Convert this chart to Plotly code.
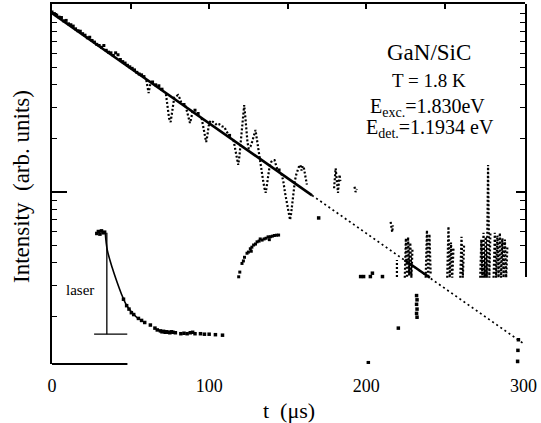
import plotly.graph_objects as go

FONT = "Liberation Serif"

# ---------------- data (t in microseconds, intensity in arb. units) ----------------
# measured decay points lying close to the exponential fit
t_main = [0, 1.5, 3, 4.5, 6, 7.5, 9, 10.5, 12, 13.5, 15, 16.5, 18, 19.5, 21, 22.5, 24, 25.5,
          27, 28.5, 30, 31.5, 33, 34.5, 36, 37.5, 39, 40.5, 42, 43.5, 45, 46.5, 48, 49.5, 51,
          52.5, 54, 55.5, 57, 58.5, 64, 66, 68, 70, 84, 91, 93, 113, 144.5]
i_main = [102.5, 100.5, 98.5, 96, 95.5, 91.5, 92, 88, 87, 85.5, 82.5, 80.5, 80, 77.5, 76, 73.5,
          74, 71, 69.5, 67.5, 66.5, 65, 66.5, 62.5, 61, 60.5, 58.5, 60.5, 59, 55.5, 54, 53, 51.5,
          50.5, 49.5, 48.5, 47, 46, 45.5, 44.5, 41.5, 40, 39.5, 37.8, 31, 28.8, 27.6, 20.8, 13.3]

# oscillating (noisy) parts of the signal, segments separated by None
t_noise = [60, 61, 61.5, 62.2, 63, None,
           72.5, 73.5, 74.5, 75.5, 76.3, 77, 77.8, 79, 80.2, 81.2, 82.2, None,
           85, 86.2, 87.2, 87.8, 88.6, 89.6, None,
           95.2, 96.3, 97.3, 98.1, 98.9, 99.7, 100.8, 102, 103.5, 105, 106.5, 108, 109.7, 111, 112.5, None,
           115.5, 116.5, 117.5, 118.5, 119.3, 120, 120.8, 121.5, 122.3, 123, 123.7, 124.4, 125.2,
           126.3, 127.4, 128.5, 129.5, 130.3, 131.2, 132.2, 133.2, 134.2, 135.2, 136, 136.8, 137.6,
           138.5, 139.6, 140.6, 141.6, 142.6, 143.6, None,
           146, 147.2, 148.2, 149.2, 150.2, 151, 151.5, 152.2, 153, 153.8, 154.6, 155.5, 156.5,
           157.3, 158, 158.8, 159.6, 160.4, 161.2, 162.2, None,
           179.5, 180, 180.5, 181, 181.5, 182, 182.5, 183, 183.5, None,
           192.5, 193.2, 194, None,
           215.5, 216, 216.5, 217, None,
           219.5, 219.5, None,
           224.5, 225.2, 225.9, 226.6, 227.3, 228, 228.7, 229.4, None,
           237.8, 238.6, 239.4, 240.2, 241, None,
           251.5, 252.3, 253.1, 253.9, 254.7, 255.5, None,
           259.8, 260.6, 261.4, 262.2, None,
           272.5, 273.2, 273.9, 274.6, 275.3, 276, 276.7, 277.5, 278.3, 279, None,
           281, 281.8, 282.6, 283.4, 284.2, 285, 285.8, 286.6, 287.4, 288.2, 289, 289.8]
i_noise = [42.5, 38, 36, 39, 42, None,
           35.5, 30, 26, 24.7, 27.5, 31.5, 34, 34.5, 35, 33.7, 32, None,
           30.5, 27.5, 25.2, 24.4, 26, 28.8, None,
           26, 23, 20.5, 19.1, 20.8, 23.5, 25.2, 24.8, 24.5, 23.7, 24, 23.4, 23.2, 21.9, 21, None,
           19.6, 17.6, 15.6, 14.2, 16, 18.5, 22, 26.5, 30.8, 26.5, 22, 19, 17.5,
           18, 19.2, 21, 22.3, 20, 17.5, 15.5, 13.5, 11.8, 10.5, 9.9, 11, 12.8,
           14, 14.8, 15.1, 15.1, 14.3, 13.2, None,
           12.7, 11.5, 10, 8.8, 7.8, 7.2, 6.97, 7.6, 8.8, 10.2, 11.6, 12.6, 13.5,
           14, 14.2, 13.2, 14, 13.5, 12.3, 11, None,
           10.5, 12, 13.6, 12.2, 11, 9.9, 11.2, 12.5, 11.5, None,
           10.7, 10, 10.4, None,
           6.8, 6.2, 5.96, 6.5, None,
           3.33, 4.15, None,
           3.3, 5.5, 3.3, 5.58, 3.4, 5.2, 3.3, 4.8, None,
           3.3, 6.1, 3.3, 5.8, 3.4, None,
           3.3, 6.4, 3.3, 5.2, 3.3, 4.84, None,
           3.3, 5.6, 3.3, 5.0, None,
           3.3, 5.4, 3.3, 5.9, 3.3, 5.6, 3.3, 14.2, 3.3, 6.0, None,
           3.3, 5.9, 3.3, 5.7, 3.3, 5.9, 3.3, 5.5, 3.3, 5.4, 3.3, 5.0]

# isolated points
t_stray = [169.7, 196.4, 198.3, 202.6, 203.9, 210.3, 220.4, 201.3,
           232, 232.3, 232, 232.3, 232, 232.3, 296.8, 296.5, 296.3, 296.3]
i_stray = [7.15, 3.35, 3.35, 3.35, 3.5, 3.35, 1.72, 1.1,
           2.62, 2.48, 2.34, 2.2, 2.08, 1.98, 1.48, 1.29, 1.12, 1.06]

# exponential fit (solid where data follow it, dotted beyond)
t_fit_solid = [0, 165.5, None, 224.5, 240.5]
i_fit_solid = [100.9, 9.58, None, 4.14, 3.30]
t_fit_dotted = [165.5, 300]
i_fit_dotted = [9.58, 1.41]

# laser pulse (inset-like trace)
t_laser_peak = [28.5, 29.5, 30.5, 31.5, 32.5, 33.5]
i_laser_peak = [5.85, 6.0, 5.8, 6.05, 5.9, 5.95]
t_laser_decay = [33.9, 35.2, 38.4, 41.6, 44.0, 46.7, 50.0, 54.3]
i_laser_decay = [5.89, 4.72, 3.74, 3.08, 2.70, 2.38, 2.15, 1.96]
t_laser_tail = [45.5, 47.5, 49, 50.5, 52, 55, 57, 59, 62.6, 65.5, 67, 69, 70, 71, 72, 73, 74, 75,
                76, 77, 78.5, 82, 84, 86, 88, 89.5, 91, 94.5, 97, 100, 104, 108.5]
i_laser_tail = [2.5, 2.3, 2.2, 2.1, 2.05, 1.95, 1.9, 1.85, 1.79, 1.72, 1.68, 1.66, 1.64, 1.65, 1.63,
                1.64, 1.63, 1.62, 1.64, 1.63, 1.62, 1.6, 1.61, 1.6, 1.62, 1.63, 1.6, 1.6, 1.59,
                1.59, 1.58, 1.57]
t_laser_bar = [34.9, 34.9]
i_laser_bar = [5.9, 1.59]
t_laser_base = [26.8, 47.9]
i_laser_base = [1.59, 1.59]

# rising signal
t_rise = [118.8, 119.5, 120.9, 121.8, 122.5, 124.1, 125, 126.2, 127.2, 128.3, 129.5, 130.5,
          131.8, 133.7, 135, 136.2, 137.5, 139, 140.2, 141.5, 142.8, 144.2, 126.8, 132.5, 138.3]
i_rise = [3.34, 3.55, 3.97, 4.1, 4.3, 4.53, 4.6, 4.8, 4.9, 5.04, 5.1, 5.25,
          5.3, 5.37, 5.45, 5.5, 5.6, 5.61, 5.65, 5.7, 5.72, 5.73, 4.65, 5.45, 5.4]

x_ticks = [0, 100, 200, 300]
top_ticks = [50, 100, 150, 200, 250]
y_major = [10]
y_minor = [2, 3, 4, 5, 6, 7, 8, 9, 20, 30, 40, 50, 60, 70, 80, 90, 100]
y2_minor = [4, 5, 6, 7, 8, 9, 20, 30, 40, 50, 60, 70, 80, 90, 100]

# ---------------- figure ----------------
W, H = 541, 423
ML, MR, MT, MB = 52, 16, 4, 59
X_RANGE = [0, 301]
Y_RANGE = [0.034, 2.056]
Y2_BOTTOM = 277  # pixel where right border stops
pw, ph = W - ML - MR, H - MT - MB
y2_dom0 = (H - MB - Y2_BOTTOM) / ph
y2_lo = Y_RANGE[0] + y2_dom0 * (Y_RANGE[1] - Y_RANGE[0])

def px(xp):
    return (xp - ML) / pw

def py(yp):
    return (H - MB - yp) / ph

fig = go.Figure()
blk = "black"
# dummy traces to activate secondary axes (top ticks, right border) - drawn first
fig.add_trace(go.Scatter(x=[150], y=[5], xaxis="x2", yaxis="y", mode="markers",
                         marker=dict(opacity=0), hoverinfo="skip"))
fig.add_trace(go.Scatter(x=[150], y=[5], xaxis="x", yaxis="y2", mode="markers",
                         marker=dict(opacity=0), hoverinfo="skip"))
fig.add_trace(go.Scatter(x=t_main, y=i_main, mode="markers",
                         marker=dict(size=3, color=blk, symbol="square"), hoverinfo="skip"))
fig.add_trace(go.Scatter(x=t_noise, y=i_noise, mode="lines", connectgaps=False,
                         line=dict(color=blk, width=2.2, dash="2px,2px"), hoverinfo="skip"))
fig.add_trace(go.Scatter(x=t_fit_solid, y=i_fit_solid, mode="lines", connectgaps=False,
                         line=dict(color=blk, width=2.6), hoverinfo="skip"))
fig.add_trace(go.Scatter(x=t_fit_dotted, y=i_fit_dotted, mode="lines",
                         line=dict(color=blk, width=1.7, dash="2px,3px"), hoverinfo="skip"))
fig.add_trace(go.Scatter(x=t_stray, y=i_stray, mode="markers",
                         marker=dict(size=3.5, color=blk, symbol="square"), hoverinfo="skip"))
fig.add_trace(go.Scatter(x=t_laser_peak, y=i_laser_peak, mode="markers",
                         marker=dict(size=3.5, color=blk, symbol="square"), hoverinfo="skip"))
fig.add_trace(go.Scatter(x=t_laser_decay, y=i_laser_decay, mode="lines",
                         line=dict(color=blk, width=1.6, shape="spline"), hoverinfo="skip"))
fig.add_trace(go.Scatter(x=t_laser_tail, y=i_laser_tail, mode="markers",
                         marker=dict(size=3.5, color=blk, symbol="square"), hoverinfo="skip"))
fig.add_trace(go.Scatter(x=t_laser_bar, y=i_laser_bar, mode="lines",
                         line=dict(color=blk, width=1.3), hoverinfo="skip"))
fig.add_trace(go.Scatter(x=t_laser_base, y=i_laser_base, mode="lines",
                         line=dict(color=blk, width=1.3), hoverinfo="skip"))
fig.add_trace(go.Scatter(x=t_rise, y=i_rise, mode="markers",
                         marker=dict(size=3, color=blk, symbol="square"), hoverinfo="skip"))

fig.update_layout(
    width=W, height=H, margin=dict(l=ML, r=MR, t=MT, b=MB),
    paper_bgcolor="white", plot_bgcolor="rgba(0,0,0,0)", showlegend=False,
    font=dict(family=FONT, color=blk),
    xaxis=dict(range=X_RANGE, tickvals=x_ticks, ticktext=[str(v) for v in x_ticks],
               ticks="outside", ticklen=5, tickcolor="rgba(0,0,0,0)",
               showline=False, showgrid=False, zeroline=False,
               tickfont=dict(family=FONT, size=18, color=blk)),
    xaxis2=dict(range=X_RANGE, overlaying="x", side="top", anchor="y",
                tickvals=top_ticks, ticks="inside", ticklen=5, tickwidth=1.5, tickcolor=blk,
                showticklabels=False, showline=True, linecolor=blk, linewidth=2,
                showgrid=False, zeroline=False),
    yaxis=dict(type="log", range=Y_RANGE, tickvals=y_major, ticks="inside", ticklen=15,
               tickwidth=1.5, tickcolor=blk, showticklabels=False,
               minor=dict(tickvals=y_minor, ticks="inside", ticklen=5, tickwidth=1.3,
                          tickcolor=blk, showgrid=False),
               showline=True, linecolor=blk, linewidth=2, showgrid=False, zeroline=False),
    yaxis2=dict(type="log", range=[y2_lo, Y_RANGE[1]], domain=[y2_dom0, 1], anchor="x",
                side="right", tickvals=y_major, ticks="inside", ticklen=9, tickwidth=1.5,
                tickcolor=blk, showticklabels=False,
                minor=dict(tickvals=y2_minor, ticks="inside", ticklen=5, tickwidth=1.3,
                           tickcolor=blk, showgrid=False),
                showline=True, linecolor=blk, linewidth=2, showgrid=False, zeroline=False),
)

# partial bottom border
fig.add_shape(type="line", xref="x", yref="paper", x0=0, x1=48, y0=0, y1=0,
              line=dict(color=blk, width=2))

ann = [
    dict(text="Intensity  (arb. units)", x=px(21), y=py(187), textangle=-90, size=23),
    dict(text="t  (\u03bcs)", x=px(289), y=py(410), textangle=0, size=22),
    dict(text="GaN/SiC", x=px(429), y=py(53), textangle=0, size=23),
    dict(text="T = 1.8 K", x=px(429), y=py(80), textangle=0, size=19),
    dict(text="E<sub>exc.</sub>=1.830eV", x=px(427), y=py(107), textangle=0, size=20),
    dict(text="E<sub>det.</sub>=1.1934 eV", x=px(430), y=py(128), textangle=0, size=20),
    dict(text="laser", x=px(80), y=py(290), textangle=0, size=15),
]
for a in ann:
    fig.add_annotation(text=a["text"], x=a["x"], y=a["y"], xref="paper", yref="paper",
                       xanchor="center", yanchor="middle", textangle=a["textangle"],
                       showarrow=False, font=dict(family=FONT, size=a["size"], color=blk))

fig.write_html("out.html")
